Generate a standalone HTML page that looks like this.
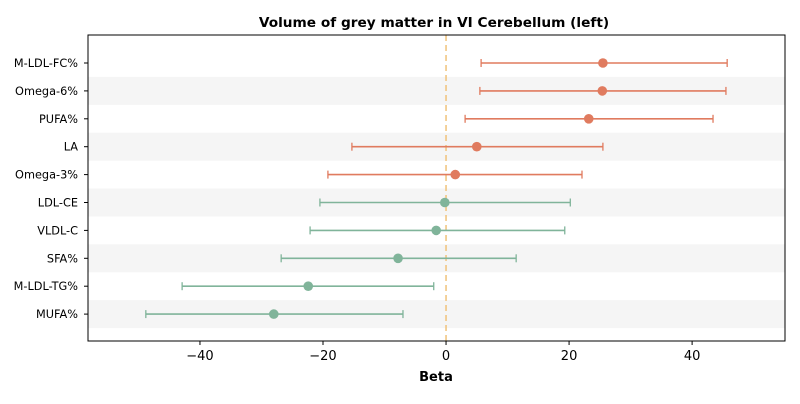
<!DOCTYPE html>
<html><head><meta charset="utf-8"><style>
body{margin:0;background:#fff;font-family:"DejaVu Sans","Liberation Sans",sans-serif}
svg text{font-family:"DejaVu Sans","Liberation Sans",sans-serif}
</style></head><body>
<svg id="chart" width="800" height="400">
<text x="434" y="27" text-anchor="middle" font-size="13.7" font-weight="bold">Volume of grey matter in VI Cerebellum (left)</text>
<g id="bands"></g>
<g id="xaxis"></g>
<g id="yaxis"></g>
<line id="zero" stroke="#f0c27a" stroke-width="1.5" stroke-dasharray="6,4"/>
<g id="marks"></g>
<rect x="88" y="35" width="697" height="306" fill="none" stroke="#000" stroke-width="1"/>
<text x="436" y="381" text-anchor="middle" font-size="13" font-weight="bold">Beta</text>
</svg>
<script>
const categories=["M-LDL-FC%","Omega-6%","PUFA%","LA","Omega-3%","LDL-CE","VLDL-C","SFA%","M-LDL-TG%","MUFA%"];
const beta=[25.5,25.4,23.2,5.0,1.5,-0.2,-1.6,-7.8,-22.4,-28.0];
const lower=[5.7,5.5,3.1,-15.3,-19.2,-20.5,-22.1,-26.8,-42.9,-48.8];
const upper=[45.7,45.5,43.4,25.5,22.1,20.2,19.3,11.4,-2.0,-7.0];
const groups=["pos","pos","pos","pos","pos","neg","neg","neg","neg","neg"];
const xTicks=[-40,-20,0,20,40];
const ns="http://www.w3.org/2000/svg";
const X0=88,X1=785,Y0=35,Y1=341,xmin=-58.2,xmax=55.1;
const xs=v=>X0+(v-xmin)/(xmax-xmin)*(X1-X0);
const rowH=27.9,firstY=63;
const ys=i=>firstY+i*rowH;
function mk(p,t,a){const e=document.createElementNS(ns,t);for(const k in a)e.setAttribute(k,a[k]);document.getElementById(p).appendChild(e);return e;}
categories.forEach((c,i)=>{
 if(i%2==1){const b=mk('bands','rect',{x:X0,y:ys(i)-rowH/2,width:X1-X0,height:rowH,fill:'#f5f5f5'});
 
 }
 const tk=mk('yaxis','line',{x1:X0-4,x2:X0,y1:ys(i),y2:ys(i),stroke:'#000'});
 
 
 const t=mk('yaxis','text',{x:X0-10,y:ys(i)+4,'text-anchor':'end','font-size':'11.3'});t.textContent=c;
 
 
 const col=groups[i]=="pos"?"#e07b5f":"#80b49a";
 const g=mk('marks','g',{});
 
 
 const y=ys(i);
 [['line',{x1:xs(lower[i]),x2:xs(upper[i]),y1:y,y2:y,stroke:col,'stroke-width':1.6}],
  ['line',{x1:xs(lower[i]),x2:xs(lower[i]),y1:y-4,y2:y+4,stroke:col,'stroke-width':1.3}],
  ['line',{x1:xs(upper[i]),x2:xs(upper[i]),y1:y-4,y2:y+4,stroke:col,'stroke-width':1.3}],
  ['circle',{cx:xs(beta[i]),cy:y,r:4.8,fill:col}]].forEach(([t,a])=>{const e=document.createElementNS(ns,t);for(const k in a)e.setAttribute(k,a[k]);g.appendChild(e);});
});
xTicks.forEach(v=>{
 const tk=mk('xaxis','line',{x1:xs(v),x2:xs(v),y1:Y1,y2:Y1+4,stroke:'#000'});
 
 
 const t=mk('xaxis','text',{x:xs(v),y:Y1+19,'text-anchor':'middle','font-size':'13'});t.textContent=v<0?'\u2212'+(-v):String(v);
 
 
});
const z=document.getElementById('zero');z.setAttribute('x1',xs(0));z.setAttribute('x2',xs(0));z.setAttribute('y1',Y0);z.setAttribute('y2',Y1);
</script>
</body></html>
